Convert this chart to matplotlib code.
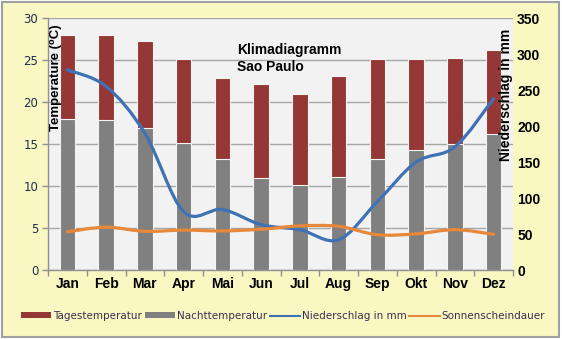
import numpy as np
import matplotlib.pyplot as plt
from matplotlib.path import Path
from matplotlib.patches import PathPatch, Rectangle, Patch
from matplotlib.lines import Line2D

# Climate data for Sao Paulo
months = ["Jan", "Feb", "Mar", "Apr", "Mai", "Jun",
          "Jul", "Aug", "Sep", "Okt", "Nov", "Dez"]
day_temp = [28.0, 28.0, 27.3, 25.1, 22.9, 22.2, 20.9, 23.1, 25.1, 25.1, 25.2, 26.2]
night_temp = [18.0, 17.8, 16.9, 15.1, 13.2, 11.0, 10.1, 11.1, 13.2, 14.3, 15.0, 16.2]
precip = [278, 255, 190, 81, 84, 63, 56, 42, 95, 150, 171, 238]
sunshine = [4.55, 5.1, 4.6, 4.75, 4.65, 4.85, 5.25, 5.2, 4.2, 4.3, 4.8, 4.25]

RED = "#953735"
GRAY = "#808080"
BLUE = "#3f72b5"
ORANGE = "#e8883a"
YELLOW = "#f9f8c2"
FONTS = ["Liberation Sans", "DejaVu Sans"]


def smooth_path(xs, ys):
    """Catmull-Rom style smoothed line as a cubic Bezier path."""
    pts = np.column_stack([xs, ys]).astype(float)
    n = len(pts)
    verts = [pts[0]]
    codes = [Path.MOVETO]
    for i in range(n - 1):
        p0 = pts[max(i - 1, 0)]
        p1 = pts[i]
        p2 = pts[i + 1]
        p3 = pts[min(i + 2, n - 1)]
        c1 = p1 + (p2 - p0) / 6.0
        c2 = p2 - (p3 - p1) / 6.0
        verts += [c1, c2, p2]
        codes += [Path.CURVE4] * 3
    return Path(verts, codes)


fig = plt.figure(figsize=(5.62, 3.39), dpi=100, facecolor="white")
fig.patches.append(Rectangle((2 / 562, 2 / 339), 557 / 562, 335 / 339,
                             transform=fig.transFigure, facecolor=YELLOW,
                             edgecolor="#a0a0a0", linewidth=1.5, zorder=-10))

ax = fig.add_axes([48 / 562, 1 - 270 / 339, 465 / 562, 252 / 339])
ax.set_facecolor("#f2f2f2")
x = np.arange(len(months))

ax.bar(x, day_temp, width=0.4, color=RED, edgecolor="#f4f4f4", linewidth=0.8, zorder=2)
ax.bar(x, night_temp, width=0.4, color=GRAY, edgecolor="#f4f4f4", linewidth=0.8, zorder=3)

ax.set_xlim(-0.5, len(months) - 0.5)
ax.set_ylim(0, 30)
ax.set_yticks(range(0, 31, 5))
ax.yaxis.grid(True, color="#a6a6a6", linewidth=1.0, zorder=0)
ax.set_axisbelow(True)
ax.tick_params(axis="y", labelsize=8.5, labelcolor="#1f2a4f", color="#909090",
               length=4, width=1, pad=3)
ax.set_yticklabels([str(v) for v in range(0, 31, 5)], family="DejaVu Sans")

ax.set_xticks(x)
ax.set_xticklabels(months, fontsize=10, fontweight="bold", family=FONTS)
ax.set_xticks(np.arange(-0.5, len(months)), minor=True)
ax.tick_params(axis="x", which="major", length=0, pad=5)
ax.tick_params(axis="x", which="minor", length=4, color="#909090", width=1)

for side in ["top", "right"]:
    ax.spines[side].set_visible(False)
for side in ["left", "bottom"]:
    ax.spines[side].set_color("#909090")
    ax.spines[side].set_linewidth(1)

ax2 = ax.twinx()
ax2.set_ylim(0, 350)
ax2.set_yticks(range(0, 351, 50))
ax2.set_yticklabels([str(v) for v in range(0, 351, 50)], fontsize=10,
                    fontweight="bold", family=FONTS)
ax2.tick_params(axis="y", length=0, pad=3)
for side in ax2.spines:
    ax2.spines[side].set_visible(False)

# Smoothed lines: sunshine on the temperature scale, drawn above the rain line
ax2.add_patch(PathPatch(smooth_path(x, precip), transform=ax2.transData,
                        facecolor="none", edgecolor=BLUE, linewidth=2.3,
                        capstyle="round", zorder=5))
ax2.add_patch(PathPatch(smooth_path(x, sunshine), transform=ax.transData,
                        facecolor="none", edgecolor=ORANGE, linewidth=2.3,
                        capstyle="round", zorder=6))

fig.text(56 / 562, 1 - 78 / 339, "Temperature (\u2070C)", rotation=90,
         ha="center", va="center", fontsize=9.5, fontweight="bold",
         family=FONTS)
fig.text(506 / 562, 1 - 95 / 339, "Niederschlag in mm", rotation=90,
         ha="center", va="center", fontsize=10, fontweight="bold",
         family=FONTS)
fig.text(237 / 562, 1 - 43 / 339, "Klimadiagramm\nSao Paulo", ha="left",
         va="top", fontsize=10, fontweight="bold", family=FONTS,
         linespacing=1.3)

handles = [Patch(facecolor=RED), Patch(facecolor=GRAY),
           Line2D([], [], color=BLUE, linewidth=1.5),
           Line2D([], [], color=ORANGE, linewidth=1.5)]
labels = ["Tagestemperatur", "Nachttemperatur", "Niederschlag in mm",
          "Sonnenscheindauer"]
fig.legend(handles, labels, loc="center", bbox_to_anchor=(283 / 562, 1 - 316 / 339),
           ncol=4, frameon=False, fontsize=7.5, handlelength=2.9, handleheight=0.5,
           handletextpad=0.2, columnspacing=0.25, labelcolor="#3a3050")

fig.savefig("out.png", dpi=100, facecolor=fig.get_facecolor())
